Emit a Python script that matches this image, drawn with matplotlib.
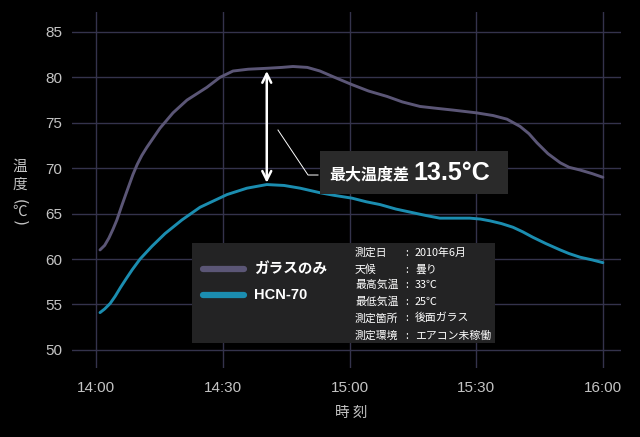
import numpy as np
import matplotlib
matplotlib.use("Agg")
import matplotlib.pyplot as plt
from matplotlib.patches import Rectangle

plt.rcParams['font.family'] = ['Noto Sans CJK JP', 'DejaVu Sans']

# -------- data (minutes after 14:00, temperature in C) --------
GLASS_T = [0.9, 2.0, 3.0, 4.0, 4.9, 6.0, 7.3, 8.7, 9.7, 10.8, 12.0, 15.1, 18.2,
           21.5, 26.2, 29.3, 32.4, 36.0, 40.4, 44.0, 46.6, 50.0, 53.0, 56.5,
           60.6, 64.5, 68.9, 72.5, 76.7, 80.5, 84.5, 90.0, 94.0, 97.3, 100.4,
           102.5, 104.4, 107.0, 109.9, 112.0, 114.6, 117.5, 120.0]
GLASS_V = [61.0, 61.5, 62.3, 63.3, 64.3, 65.8, 67.5, 69.3, 70.4, 71.4, 72.3, 74.4,
           76.1, 77.5, 78.9, 80.0, 80.7, 80.9, 81.0, 81.1, 81.2, 81.1, 80.7, 80.0,
           79.2, 78.5, 77.9, 77.3, 76.8, 76.6, 76.4, 76.1, 75.8, 75.4, 74.6, 73.8,
           72.8, 71.6, 70.6, 70.1, 69.8, 69.4, 69.0]

HCN_T = [0.9, 2.0, 3.3, 4.5, 5.8, 7.2, 8.5, 10.4, 13.2, 16.3, 20.3, 24.6, 31.0,
         35.7, 40.4, 44.5, 48.3, 53.0, 56.5, 60.6, 64.0, 67.2, 71.0, 75.0, 78.0,
         81.4, 85.0, 88.5, 91.0, 93.3, 96.0, 98.7, 101.0, 103.4, 106.5, 109.9,
         112.0, 114.6, 117.5, 120.0]
HCN_V = [54.1, 54.5, 55.1, 55.9, 56.9, 57.9, 58.8, 60.0, 61.4, 62.8, 64.3, 65.7,
         67.1, 67.8, 68.2, 68.1, 67.8, 67.3, 67.0, 66.7, 66.3, 66.0, 65.5, 65.1,
         64.8, 64.5, 64.5, 64.5, 64.4, 64.2, 63.9, 63.5, 63.0, 62.4, 61.7, 61.0,
         60.6, 60.2, 59.9, 59.6]

SERIES_NAMES = ["ガラスのみ", "HCN-70"]
X_TICKS = [0, 30, 60, 90, 120]
X_LABELS = ["14:00", "14:30", "15:00", "15:30", "16:00"]
Y_TICKS = [50, 55, 60, 65, 70, 75, 80, 85]
INFO_KEYS = ["測定日", "天候", "最高気温", "最低気温", "測定箇所", "測定環境"]
INFO_VALS = ["2010年6月", "曇り", "33℃", "25℃", "後面ガラス", "エアコン未稼働"]
DIFF_LABEL = "最大温度差"
DIFF_VALUE = "13.5°C"
# ---------------------------------------------------------------

GRAY = '#5b5676'
BLUE = '#1b8db0'
GRID = '#34334c'
TICK = '#c4c4c4'
BOX = '#232324'

fig = plt.figure(figsize=(6.4, 4.37), dpi=100, facecolor='black')
ax = fig.add_axes([72 / 640, 69 / 437, 549 / 640, 356 / 437])
ax.set_facecolor('black')

ax.plot(GLASS_T, GLASS_V, color=GRAY, lw=2.1, solid_capstyle='round',
        solid_joinstyle='round', zorder=3)
ax.plot(HCN_T, HCN_V, color=BLUE, lw=2.1, solid_capstyle='round',
        solid_joinstyle='round', zorder=3)

ax.set_xlim(-5.73, 124.3)
ax.set_ylim(48.0, 87.2)
ax.set_xticks(X_TICKS)
ax.set_xticklabels(X_LABELS)
ax.set_yticks(Y_TICKS)
ax.grid(True, color=GRID, lw=1.0)
ax.set_axisbelow(True)
for s in ax.spines.values():
    s.set_visible(False)
ax.tick_params(length=0, colors=TICK, labelsize=11)
ax.tick_params(axis='y', pad=7)
ax.tick_params(axis='x', pad=9)
for lab in ax.get_xticklabels() + ax.get_yticklabels():
    lab.set_family(['Liberation Sans', 'DejaVu Sans'])

# max difference arrow at the HCN-70 peak
i_pk = int(np.argmax(HCN_V))
t_pk = HCN_T[i_pk]
top = np.interp(t_pk, GLASS_T, GLASS_V)
ax.annotate('', xy=(t_pk, HCN_V[i_pk] + 0.2), xytext=(t_pk, top - 0.3),
            arrowprops=dict(arrowstyle='<->', color='white', lw=1.8,
                            mutation_scale=16, shrinkA=0, shrinkB=0), zorder=5)

# leader line + label box
ax.plot([0.3752, 0.4299, 0.4481], [0.6685, 0.5421, 0.5421], color='white',
        lw=0.7, transform=ax.transAxes, zorder=5)
ax.add_patch(Rectangle((0.4517, 0.4888), 0.3425, 0.1208, transform=ax.transAxes,
                       facecolor='#2a2a2a', edgecolor='none', zorder=4))
ax.text(0.4681, 0.544, DIFF_LABEL, transform=ax.transAxes, color='white',
        fontsize=11.5, fontweight='bold', va='center', ha='left', zorder=6)
ax.text(0.6211, 0.549, DIFF_VALUE, transform=ax.transAxes, color='white',
        fontsize=18, fontweight='bold', va='center', ha='left', zorder=6,
        family=['Liberation Sans', 'DejaVu Sans'])

# legend box
ax.add_patch(Rectangle((0.2186, 0.0702), 0.5519, 0.2808, transform=ax.transAxes,
                       facecolor=BOX, edgecolor='none', zorder=4))
for yy, col, name in zip([0.278, 0.205], [GRAY, BLUE], SERIES_NAMES):
    ax.plot([0.2386, 0.3133], [yy, yy], color=col, lw=4.5, solid_capstyle='round',
            transform=ax.transAxes, zorder=5)
    ax.text(0.3315, yy, name, transform=ax.transAxes, color='white', fontsize=10.5,
            fontweight='bold', va='center', ha='left', zorder=6,
            family=['Liberation Sans', 'Noto Sans CJK JP'] if name.isascii()
            else ['Noto Sans CJK JP'])

rows_y = [0.323, 0.276, 0.233, 0.186, 0.140, 0.091]
for yy, k, v in zip(rows_y, INFO_KEYS, INFO_VALS):
    ax.text(0.5155, yy, k, transform=ax.transAxes, color='white', fontsize=7.8,
            va='center', ha='left', zorder=6)
    ax.text(0.610, yy, ':', transform=ax.transAxes, color='white', fontsize=7.8,
            va='center', ha='center', zorder=6)
    ax.text(0.6248, yy, v, transform=ax.transAxes, color='white', fontsize=7.8,
            va='center', ha='left', zorder=6)

# axis titles
fig.text(0.031, 1 - 167 / 437, "温", color=TICK, fontsize=10.5, ha='center', va='center')
fig.text(0.031, 1 - 185 / 437, "度", color=TICK, fontsize=10.5, ha='center', va='center')
fig.text(0.031, 1 - 202 / 437, "(", color=TICK, fontsize=11, ha='center', va='center',
         rotation=-90, family=['DejaVu Sans'])
fig.text(0.031, 1 - 212 / 437, "℃", color=TICK, fontsize=10.5, ha='center', va='center')
fig.text(0.031, 1 - 223 / 437, ")", color=TICK, fontsize=11, ha='center', va='center',
         rotation=-90, family=['DejaVu Sans'])
fig.text(351 / 640, 1 - 413 / 437, "時 刻", color=TICK, fontsize=10.5,
         ha='center', va='center')

fig.savefig('out.png', dpi=100, facecolor='black')
